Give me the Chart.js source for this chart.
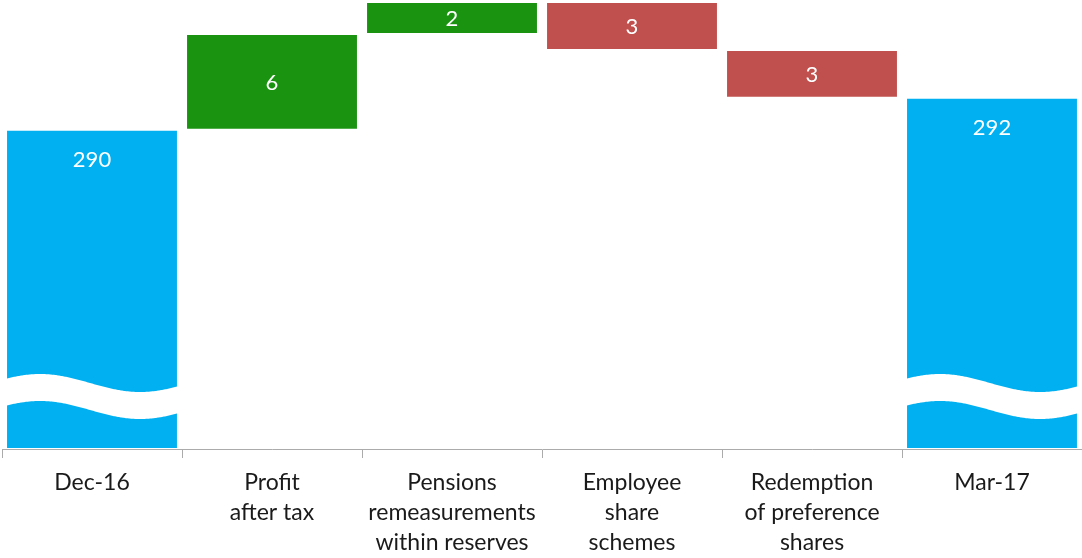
<!DOCTYPE html>
<html lang="en">
<head>
    <meta charset="UTF-8">
    <title>Capital walk</title>
    <script src="https://cdn.jsdelivr.net/npm/chart.js"></script>
    <style>
        html, body {
            margin: 0;
            padding: 0;
            background: #ffffff;
        }
        #wrap {
            width: 1082px;
            height: 558px;
            position: relative;
        }
    </style>
</head>
<body>
    <div id="wrap">
        <canvas id="waterfall"></canvas>
    </div>
    <script>
        // data
        const categories = [
            'Dec-16',
            ['Profit', 'after tax'],
            ['Pensions', 'remeasurements', 'within reserves'],
            ['Employee', 'share', 'schemes'],
            ['Redemption', 'of preference', 'shares'],
            'Mar-17'
        ];
        const startValue = 290;
        const changes = [6, 2, -3, -3];
        const endValue = 292;
        const axisMin = 270;
        const axisMax = 298;

        // build floating bars
        const bars = [];
        const labels = [];
        const colors = [];
        const isTotal = [];
        bars.push([axisMin, startValue]);
        labels.push(String(startValue));
        colors.push('#00b0f0');
        isTotal.push(true);
        let running = startValue;
        changes.forEach(c => {
            bars.push([running, running + c]);
            labels.push(String(Math.abs(c)));
            colors.push(c >= 0 ? '#1a9310' : '#c0504d');
            isTotal.push(false);
            running += c;
        });
        bars.push([axisMin, endValue]);
        labels.push(String(endValue));
        colors.push('#00b0f0');
        isTotal.push(true);

        // white labels + wavy break on the total bars
        const decorPlugin = {
            id: 'decor',
            afterDatasetsDraw(chart) {
                const ctx = chart.ctx;
                const meta = chart.getDatasetMeta(0);
                ctx.save();
                meta.data.forEach((bar, i) => {
                    const left = bar.x - bar.width / 2;
                    const right = bar.x + bar.width / 2;
                    const top = Math.min(bar.y, bar.base);
                    const bottom = Math.max(bar.y, bar.base);
                    if (isTotal[i]) {
                        // wave band
                        const mid = bottom - 66;
                        const amp = 9;
                        const period = 200;
                        const thick = 27;
                        ctx.beginPath();
                        const w = right - left;
                        for (let x = 0; x <= w; x += 1) {
                            const y = mid - amp * Math.cos(2 * Math.PI * (x - 34) / period);
                            if (x === 0) ctx.moveTo(left + x, y); else ctx.lineTo(left + x, y);
                        }
                        for (let x = w; x >= 0; x -= 1) {
                            const y = mid + thick - amp * Math.cos(2 * Math.PI * (x - 34) / period);
                            ctx.lineTo(left + x, y);
                        }
                        ctx.closePath();
                        ctx.fillStyle = '#ffffff';
                        ctx.fill();
                    }
                    ctx.fillStyle = '#ffffff';
                    ctx.font = '22px Lato, "Noto Sans", sans-serif';
                    ctx.textAlign = 'center';
                    ctx.textBaseline = 'middle';
                    const ty = isTotal[i] ? top + 30 : (top + bottom) / 2 + 1;
                    ctx.fillText(labels[i], bar.x, ty);
                });
                ctx.restore();
            }
        };

        const ctx = document.getElementById('waterfall').getContext('2d');
        const chart = new Chart(ctx, {
            type: 'bar',
            data: {
                labels: categories,
                datasets: [{
                    data: bars,
                    backgroundColor: colors,
                    borderColor: 'rgba(255,255,255,0.35)',
                    borderWidth: 1,
                    borderSkipped: false,
                    categoryPercentage: 1,
                    barPercentage: 0.955
                }]
            },
            options: {
                responsive: true,
                maintainAspectRatio: false,
                animation: false,
                layout: {
                    padding: { left: 2, right: 0, top: 2, bottom: 0 }
                },
                plugins: {
                    legend: { display: false },
                    tooltip: { enabled: false }
                },
                scales: {
                    x: {
                        afterFit(scale) {
                            scale.height = 109;
                        },
                        grid: {
                            offset: true,
                            drawOnChartArea: false,
                            drawTicks: true,
                            tickLength: 9,
                            color: '#ababab'
                        },
                        border: { color: '#ababab', width: 1 },
                        ticks: {
                            color: '#1a1a1a',
                            font: { family: 'Lato, "Noto Sans", sans-serif', size: 23, lineHeight: 1.3 },
                            padding: 10,
                            maxRotation: 0,
                            autoSkip: false
                        }
                    },
                    y: {
                        display: false,
                        min: axisMin,
                        max: axisMax
                    }
                }
            },
            plugins: [decorPlugin]
        });
    </script>
</body>
</html>
